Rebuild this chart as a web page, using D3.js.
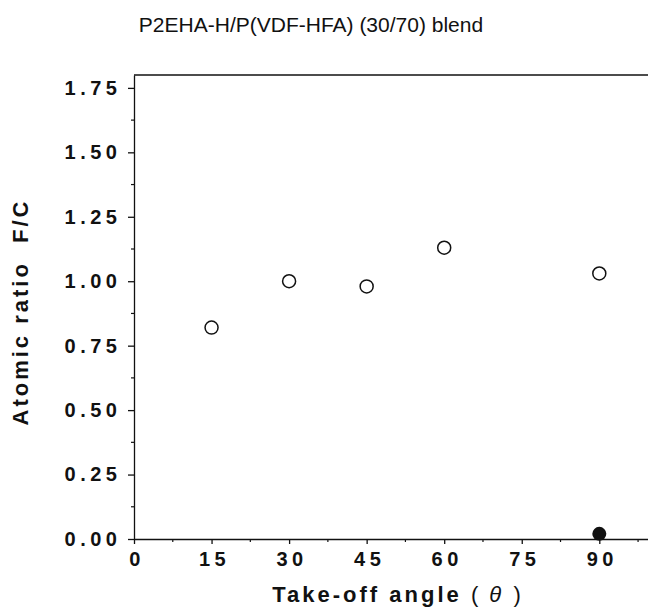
<!DOCTYPE html>
<html>
<head>
<meta charset="utf-8">
<script src="https://cdn.jsdelivr.net/npm/d3@7"></script>
<style>
  body { margin: 0; background: #fff; }
  svg { display: block; font-family: "Liberation Sans", Arial, sans-serif; }
</style>
</head>
<body>
<div class="chart"></div>
<script>
// data
var angles = [15, 30, 45, 60, 90];
var ratioFC = [0.82, 1.00, 0.98, 1.13, 1.03];
var bulkAngles = [90];
var bulkRatioFC = [0.02];
var xTicks = [0, 15, 30, 45, 60, 75, 90];
var yTicks = [0, 0.25, 0.5, 0.75, 1.0, 1.25, 1.5, 1.75];

var svgWidth = 648;
var svgHeight = 609;

var svg = d3.select(".chart")
  .append("svg")
  .attr("width", svgWidth)
  .attr("height", svgHeight);

var x = d3.scaleLinear().domain([0, 100]).range([134, 651]);
var y = d3.scaleLinear().domain([0, 1.8]).range([539, 75]);

// title
svg.append("text")
  .attr("x", 311)
  .attr("y", 32)
  .attr("text-anchor", "middle")
  .attr("font-size", "21px")
  .attr("fill", "#111")
  .text("P2EHA-H/P(VDF-HFA) (30/70) blend");

// frame top line
svg.append("line")
  .attr("x1", x(0)).attr("x2", svgWidth)
  .attr("y1", y(1.8)).attr("y2", y(1.8))
  .attr("stroke", "#111").attr("stroke-width", 1.3);

// minor ticks
var xMinor = d3.range(7.5, 100, 15);
svg.append("g").selectAll("line")
  .data(xMinor)
  .enter().append("line")
  .attr("x1", d => x(d)).attr("x2", d => x(d))
  .attr("y1", y(0)).attr("y2", y(0) + 3)
  .attr("stroke", "#111").attr("stroke-width", 1.2);

var yMinor = d3.range(0.125, 1.8, 0.25);
svg.append("g").selectAll("line")
  .data(yMinor)
  .enter().append("line")
  .attr("x1", x(0)).attr("x2", x(0) - 3)
  .attr("y1", d => y(d)).attr("y2", d => y(d))
  .attr("stroke", "#111").attr("stroke-width", 1.2);

// axes
var xAxis = svg.append("g")
  .attr("transform", `translate(0, ${y(0)})`)
  .call(d3.axisBottom(x).tickValues(xTicks).tickSize(5).tickPadding(8).tickSizeOuter(0));

var yAxis = svg.append("g")
  .attr("transform", `translate(${x(0)}, 0)`)
  .call(d3.axisLeft(y).tickValues(yTicks).tickFormat(d3.format(".2f")).tickSize(6).tickPadding(11).tickSizeOuter(0));

[xAxis, yAxis].forEach(a => {
  a.attr("font-family", null).attr("font-size", null);
  a.select(".domain").attr("stroke", "#111").attr("stroke-width", 1.3);
  a.selectAll(".tick line").attr("stroke", "#111").attr("stroke-width", 1.3);
  a.selectAll(".tick text")
    .style("font-size", "20px")
    .style("font-weight", "bold")
    .style("letter-spacing", "4.5px")
    .attr("fill", "#111");
});
// undo trailing letter-spacing
yAxis.selectAll(".tick text").attr("dx", "4.5px");
xAxis.selectAll(".tick text").attr("dx", "2.5px");

// axis titles
var xTitle = svg.append("text")
  .attr("x", 398)
  .attr("y", 602)
  .attr("text-anchor", "middle")
  .attr("font-size", "22px")
  .attr("font-weight", "bold")
  .attr("letter-spacing", "3px")
  .attr("fill", "#111");
xTitle.append("tspan").text("Take-off angle ");
xTitle.append("tspan").attr("font-weight", "normal").attr("letter-spacing", "2px").text("(");
xTitle.append("tspan").attr("font-weight", "normal").attr("font-style", "italic").text(" θ ");
xTitle.append("tspan").attr("font-weight", "normal").text(")");

svg.append("text")
  .attr("transform", "translate(28, 312) rotate(-90)")
  .attr("text-anchor", "middle")
  .attr("font-size", "22px")
  .attr("font-weight", "bold")
  .attr("letter-spacing", "3px")
  .attr("fill", "#111")
  .attr("xml:space", "preserve")
  .text("Atomic ratio  F/C");

// points
svg.append("g").selectAll("circle")
  .data(angles)
  .enter().append("circle")
  .attr("cx", d => x(d))
  .attr("cy", (d, i) => y(ratioFC[i]))
  .attr("r", 6.5)
  .attr("fill", "#fff")
  .attr("stroke", "#111")
  .attr("stroke-width", 1.5);

svg.append("g").selectAll("circle")
  .data(bulkAngles)
  .enter().append("circle")
  .attr("cx", d => x(d))
  .attr("cy", (d, i) => y(bulkRatioFC[i]))
  .attr("r", 7)
  .attr("fill", "#111");
</script>
</body>
</html>
